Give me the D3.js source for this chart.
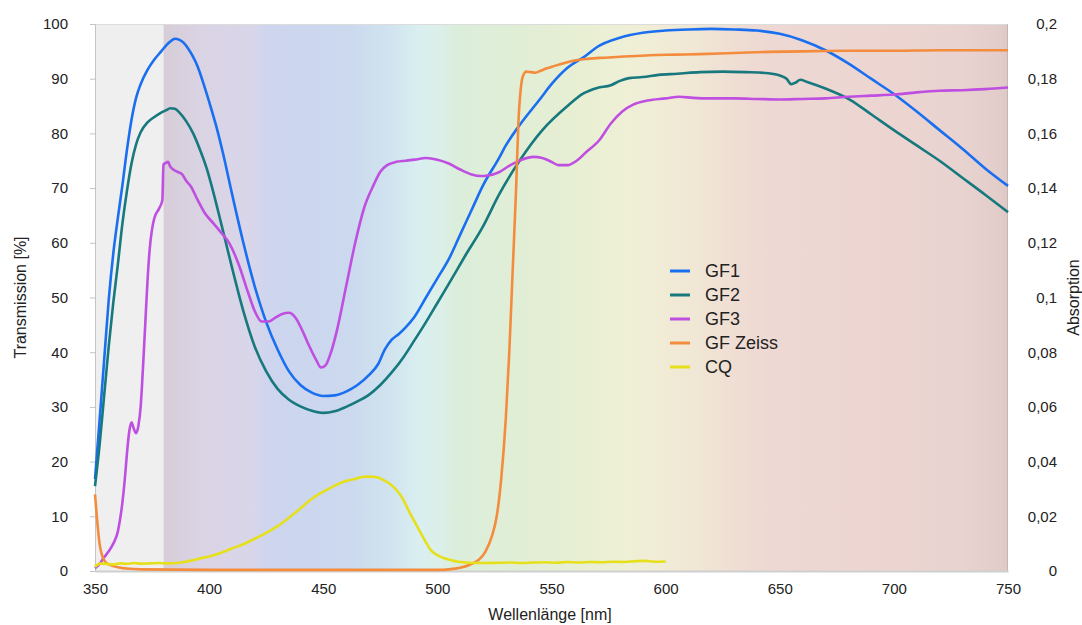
<!DOCTYPE html>
<html>
<head>
<meta charset="utf-8">
<script src="https://cdn.jsdelivr.net/npm/d3@7"></script>
<style>
  body { margin: 0; background: #fff; }
  svg text { font-family: "Liberation Sans", Arial, Helvetica, sans-serif; fill: #222; }
</style>
</head>
<body>
<div id="chart"></div>
<script>
// Transmission in %, wavelength in nm
const gf1 = [[350,16.8],[352,27.5],[354,38.5],[356,49.5],[358,58],[360,64.5],[362,70.5],[364,77],[366,82.5],[368,86.5],[370,89],[373,91.6],[376,93.5],[379,95],[381,96],[383,96.8],[385,97.3],[387,97.1],[389,96.5],[391,95.4],[393,94],[395,92.2],[397,89.8],[400,85.8],[403,81.5],[406,76.5],[410,69],[415,60],[420,52],[425,45.5],[430,40.5],[435,36.5],[440,34],[445,32.6],[450,32],[455,32.1],[460,32.8],[465,34],[470,35.8],[474,37.8],[477,40.5],[480,42.3],[483,43.3],[486,44.5],[490,46.5],[495,50],[500,53.5],[505,57],[510,61.5],[515,66],[520,70.5],[527,75.5],[530,77.8],[536,81.5],[545,86.3],[550,89],[557,92],[565,94.2],[570,95.8],[580,97.5],[590,98.4],[600,98.8],[610,99],[620,99.1],[630,99],[640,98.8],[650,98.2],[660,97],[670,95.2],[680,92.8],[690,90],[700,87.2],[710,84],[720,80.6],[730,77.2],[740,73.6],[750,70.4]];

const gf2 = [[350,15.5],[352,23],[354,32],[356,41],[358,49],[360,56],[362,63.5],[364,69.5],[366,74.5],[368,78],[370,80.2],[373,82],[376,83],[379,83.8],[381,84.2],[383,84.6],[385,84.5],[387,83.8],[390,82.2],[393,80],[396,77],[399,73.5],[402,69],[405,64],[410,55.5],[415,47.5],[420,41],[425,36.5],[430,33.3],[435,31.3],[440,30.1],[445,29.3],[450,28.9],[455,29.2],[460,30],[465,31],[470,32.2],[475,34],[480,36.3],[485,39],[490,42.2],[495,45.5],[500,49],[505,52.5],[512,57.5],[520,63],[527,68.8],[536,75],[546,80.6],[557,85],[564,87.3],[570,88.3],[576,88.8],[580,89.6],[584,90.1],[590,90.3],[597,90.7],[605,90.9],[615,91.2],[625,91.3],[635,91.2],[645,91],[650,90.6],[653,90],[655,89],[657,89.3],[659,89.8],[662,89.4],[670,88.2],[681,86.1],[690,83.5],[700,80.6],[710,77.8],[720,75],[730,71.9],[740,68.8],[750,65.6]];

const gf3 = [[350,0.5],[352,1.3],[354,2.5],[356,3.6],[358,5],[360,7.2],[361,9.5],[362,12.5],[363,16.5],[364,21.5],[365,25.5],[366,27.2],[367,26],[368,25.2],[369,26.5],[370,30],[371,37],[372,45],[373,53],[374,59],[375,62.5],[376,64.5],[378,66.2],[379.5,67.8],[380,74.3],[381,74.6],[382,74.8],[383,73.9],[386,73],[388,72.6],[390,71.3],[392,70.3],[395,67.8],[398,65.5],[402,63.5],[405,62],[409,59.8],[413,56],[417,51],[420,47.5],[423,45.6],[426,45.6],[429,46.3],[432,47],[435,47.2],[438,46.2],[441,43.8],[444,41],[447,38.5],[449,37.2],[451,37.6],[453,39.5],[456,44],[460,52],[464,60],[468,66.5],[472,70.5],[475,73],[478,74.2],[482,74.8],[486,75],[490,75.2],[495,75.5],[500,75.2],[505,74.5],[510,73.4],[515,72.5],[519,72.2],[522,72.3],[527,72.9],[532,74.2],[537,75.2],[542,75.7],[546,75.5],[550,74.8],[553,74.2],[557,74.2],[561,75],[565,76.5],[571,78.8],[576,81.8],[581,84],[586,85.3],[592,86],[600,86.4],[606,86.7],[612,86.5],[620,86.4],[630,86.4],[640,86.3],[650,86.2],[660,86.3],[670,86.4],[680,86.7],[690,86.9],[700,87.1],[710,87.5],[720,87.8],[730,87.9],[740,88.1],[750,88.4]];

const gfZeiss = [[350,14],[351,9],[352,5],[353,3],[354,2],[356,1.2],[360,0.7],[365,0.4],[370,0.3],[400,0.2],[450,0.2],[500,0.2],[505,0.3],[510,0.6],[514,1.1],[518,2],[521,3.5],[524,6.5],[526,10],[528,17],[530,28],[531.5,40],[533,55],[534.5,70],[535.5,82],[536.5,88],[537.5,90.5],[539,91.3],[541,91.2],[543,91.1],[545,91.4],[548,91.9],[551,92.3],[555,92.8],[560,93.3],[565,93.6],[571,93.8],[580,94],[593,94.3],[605,94.4],[615,94.5],[630,94.7],[645,94.9],[660,95],[680,95.1],[700,95.1],[720,95.2],[740,95.2],[750,95.2]];

// Absorption (right axis)
const cq = [[350,0.0015],[352,0.0027],[355,0.0026],[358,0.0024],[361,0.0028],[364,0.0026],[367,0.0029],[370,0.0027],[374,0.0028],[378,0.0029],[382,0.0028],[386,0.0029],[389,0.0033],[392,0.0038],[396,0.0046],[400,0.0053],[405,0.0066],[410,0.0082],[415,0.0098],[420,0.0118],[425,0.0139],[430,0.0164],[435,0.0195],[440,0.0229],[445,0.0264],[450,0.029],[453,0.0303],[457,0.032],[461,0.0332],[464,0.0336],[466,0.0342],[469,0.0345],[472,0.0344],[474,0.0342],[476,0.0334],[479,0.032],[482,0.0297],[485,0.0262],[487,0.0228],[489,0.0196],[491,0.0165],[493,0.0135],[495,0.0105],[497,0.0078],[499,0.0063],[502,0.005],[505,0.0042],[509,0.0034],[513,0.0031],[517,0.0029],[522,0.0029],[527,0.003],[532,0.0031],[537,0.0029],[542,0.0031],[547,0.0032],[552,0.003],[557,0.0033],[562,0.0031],[567,0.0033],[572,0.0032],[577,0.0034],[582,0.0033],[587,0.0036],[591,0.0037],[595,0.0034],[600,0.0035]];

const seriesNames = ["GF1", "GF2", "GF3", "GF Zeiss", "CQ"];
const xTicks = [350, 400, 450, 500, 550, 600, 650, 700, 750];
const yTicks = [0, 10, 20, 30, 40, 50, 60, 70, 80, 90, 100];
const yRightTicks = [0, 0.02, 0.04, 0.06, 0.08, 0.1, 0.12, 0.14, 0.16, 0.18, 0.2];

const width = 1082, height = 625;
const plotLeft = 95, plotRight = 1008, plotTop = 24, plotBottom = 571;

const svg = d3.select("#chart").append("svg")
  .attr("width", width)
  .attr("height", height);

const x = d3.scaleLinear().domain([350, 750]).range([plotLeft, plotRight]);
const y = d3.scaleLinear().domain([0, 100]).range([plotBottom, plotTop]);
const yR = d3.scaleLinear().domain([0, 0.2]).range([plotBottom, plotTop]);

// spectrum background
const stops = [[380,"#d6cdd8"],[396,"#dad3e3"],[418,"#d9d6ea"],[426,"#ced5ee"],[440,"#ccd6ef"],[462,"#cbd9ee"],[479,"#d0e3ef"],[492,"#d9eff0"],[502,"#dcefe8"],[508,"#dbeedb"],[541,"#e2eed5"],[562,"#e8efd3"],[580,"#eef0d6"],[598,"#f1ecd6"],[615,"#f0e6d5"],[633,"#efdcd3"],[645,"#eed8d3"],[703,"#ecd5d1"],[729,"#e8d3d0"],[746,"#e3cdca"],[750,"#ddc8c5"]];
const grad = svg.append("defs").append("linearGradient")
  .attr("id", "spec")
  .attr("gradientUnits", "userSpaceOnUse")
  .attr("x1", x(380)).attr("x2", x(750))
  .attr("y1", 0).attr("y2", 0);
grad.selectAll("stop").data(stops).enter().append("stop")
  .attr("offset", d => (d[0] - 380) / 370)
  .attr("stop-color", d => d[1]);

svg.append("rect")
  .attr("x", x(350)).attr("y", plotTop)
  .attr("width", x(380) - x(350)).attr("height", plotBottom - plotTop)
  .attr("fill", "#efefef");
svg.append("rect")
  .attr("x", x(380)).attr("y", plotTop)
  .attr("width", x(750) - x(380)).attr("height", plotBottom - plotTop)
  .attr("fill", "url(#spec)");

// frame
svg.append("line").attr("x1", plotLeft).attr("x2", plotRight).attr("y1", plotTop + 0.5).attr("y2", plotTop + 0.5)
  .attr("stroke", "#dcdcdc");
svg.append("line").attr("x1", plotRight - 0.5).attr("x2", plotRight - 0.5).attr("y1", plotTop).attr("y2", plotBottom)
  .attr("stroke", "#c4b6b4");

// axes
const yAxis = d3.axisLeft(y).tickValues(yTicks).tickSize(5).tickPadding(22);
const gy = svg.append("g").attr("transform", "translate(" + plotLeft + ",0)").call(yAxis);
gy.select(".domain").attr("stroke", "#c4c4c4");
gy.selectAll(".tick line").attr("stroke", "#c4c4c4");
gy.selectAll("text").style("font-size", "15px").attr("fill", "#222");

const yRAxis = d3.axisRight(yR).tickValues(yRightTicks).tickSize(0)
  .tickFormat(d => d === 0 ? "0" : String(+d.toFixed(2)).replace(".", ","));
const gyr = svg.append("g").attr("transform", "translate(" + plotRight + ",0)").call(yRAxis);
gyr.select(".domain").remove();
gyr.selectAll("text").attr("x", 49).attr("text-anchor", "end")
  .style("font-size", "15px").attr("fill", "#222");

const xAxis = d3.axisBottom(x).tickValues(xTicks).tickSize(0).tickPadding(12);
const gx = svg.append("g").attr("transform", "translate(0," + plotBottom + ")").call(xAxis);
gx.select(".domain").attr("stroke", "#cfcfcf").attr("stroke-width", 2);
gx.selectAll("text").style("font-size", "15px").attr("fill", "#222");

// titles
svg.append("text")
  .attr("transform", "translate(26," + (plotTop + plotBottom) / 2 + ") rotate(-90)")
  .attr("text-anchor", "middle")
  .style("font-size", "16px")
  .text("Transmission [%]");
svg.append("text")
  .attr("transform", "translate(1079," + (plotTop + plotBottom) / 2 + ") rotate(-90)")
  .attr("text-anchor", "middle")
  .style("font-size", "16px")
  .text("Absorption");
svg.append("text")
  .attr("x", 550).attr("y", 620)
  .attr("text-anchor", "middle")
  .style("font-size", "16px")
  .text("Wellenlänge [nm]");

// series
const colors = ["#1a6ff0", "#17787e", "#bf4fe0", "#f48c3e", "#e6e01c"];
const series = [
  { data: gf1, scale: y },
  { data: gf2, scale: y },
  { data: gf3, scale: y },
  { data: gfZeiss, scale: y },
  { data: cq, scale: yR }
];

series.forEach((s, i) => {
  const line = d3.line()
    .x(d => x(d[0]))
    .y(d => s.scale(d[1]))
    .curve(d3.curveMonotoneX);
  svg.append("path")
    .datum(s.data)
    .attr("d", line)
    .attr("fill", "none")
    .attr("stroke", colors[i])
    .attr("stroke-width", 2.6)
    .attr("stroke-linejoin", "round");
});

// legend
const legend = svg.append("g").attr("transform", "translate(670,271)");
seriesNames.forEach((name, i) => {
  legend.append("line")
    .attr("x1", 0).attr("x2", 20)
    .attr("y1", i * 24).attr("y2", i * 24)
    .attr("stroke", colors[i]).attr("stroke-width", 3);
  legend.append("text")
    .attr("x", 35).attr("y", i * 24)
    .attr("dy", "0.35em")
    .style("font-size", "18px")
    .text(name);
});
</script>
</body>
</html>
